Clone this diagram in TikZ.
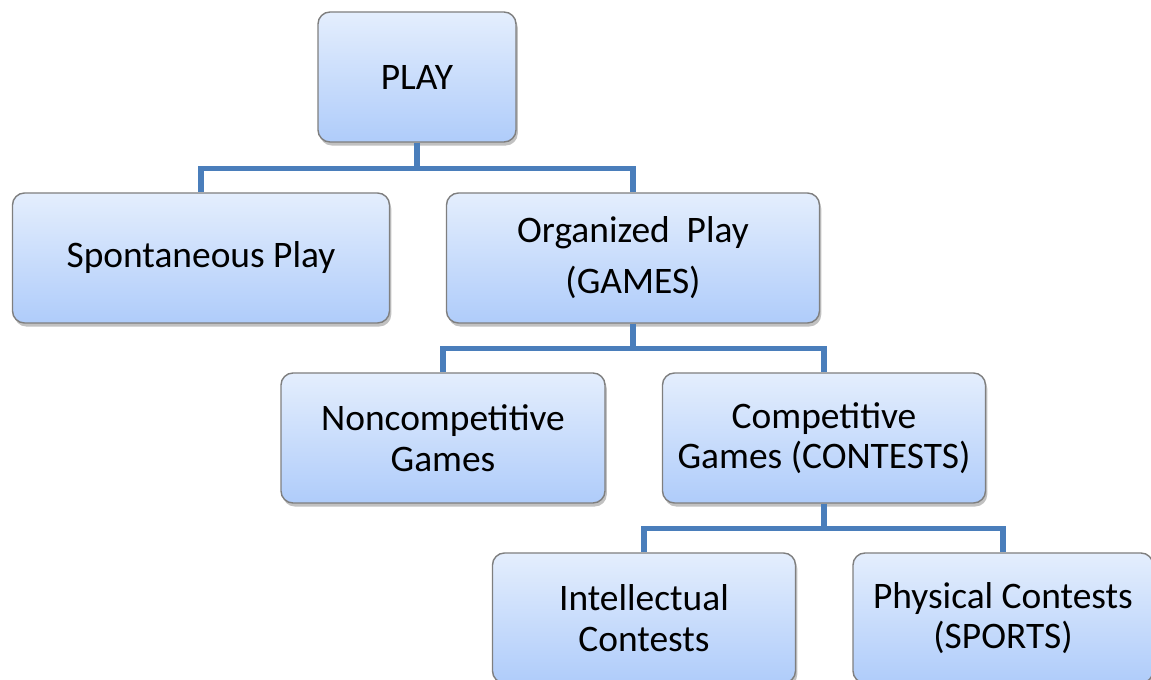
\documentclass[tikz,border=0pt]{standalone}
\usepackage{fontspec}
\setmainfont{Carlito}
\usepackage{tikz}
\usetikzlibrary{shadows}

\definecolor{boxtop}{HTML}{E4EEFD}
\definecolor{boxbottom}{HTML}{AFCCFA}
\definecolor{boxline}{HTML}{7F7F7F}
\definecolor{linkblue}{HTML}{4A7EBB}

\begin{document}
\begin{tikzpicture}[scale = 1.00,
        box/.style = {rectangle, rounded corners = 0.24cm, draw = boxline, line width = 0.8pt,
                      top color = boxtop, bottom color = boxbottom,
                      drop shadow = {shadow xshift = 1pt, shadow yshift = -2pt, opacity = .35, fill = black!70},
                      minimum height = 2.6cm, align = center,
                      font = \fontsize{21.3}{23}\selectfont, inner sep = 0pt},
        link/.style = {draw = linkblue, line width = 3pt}]
        \useasboundingbox (0,0) rectangle (23.02,-13.6);

        \node [box, minimum width = 3.96cm] (play)     at (8.34,-1.54)   {PLAY};
        \node [box, minimum width = 7.54cm] (spont)    at (4.02,-5.16)   {Spontaneous Play};
        \node [box, minimum width = 7.46cm] (organized) at (12.66,-5.16) {Organized\ \ Play\\[6pt](GAMES)};
        \node [box, minimum width = 6.48cm] (noncomp)  at (8.86,-8.76)   {Noncompetitive\\Games};
        \node [box, minimum width = 6.46cm] (comp)     at (16.48,-8.76)  {Competitive\\Games (CONTESTS)};
        \node [box, minimum width = 6.06cm] (intel)    at (12.88,-12.36) {Intellectual\\Contests};
        \node [box, minimum width = 6.00cm] (physical) at (20.06,-12.36) {Physical Contests\\(SPORTS)};

        \draw [link] (play.south) -- ++(0,-0.52) -| (spont.north);
        \draw [link] (play.south) -- ++(0,-0.52) -| (organized.north);

        \draw [link] (organized.south) -- ++(0,-0.5) -| (noncomp.north);
        \draw [link] (organized.south) -- ++(0,-0.5) -| (comp.north);

        \draw [link] (comp.south) -- ++(0,-0.5) -| (intel.north);
        \draw [link] (comp.south) -- ++(0,-0.5) -| (physical.north);

    \end{tikzpicture}
\end{document}
